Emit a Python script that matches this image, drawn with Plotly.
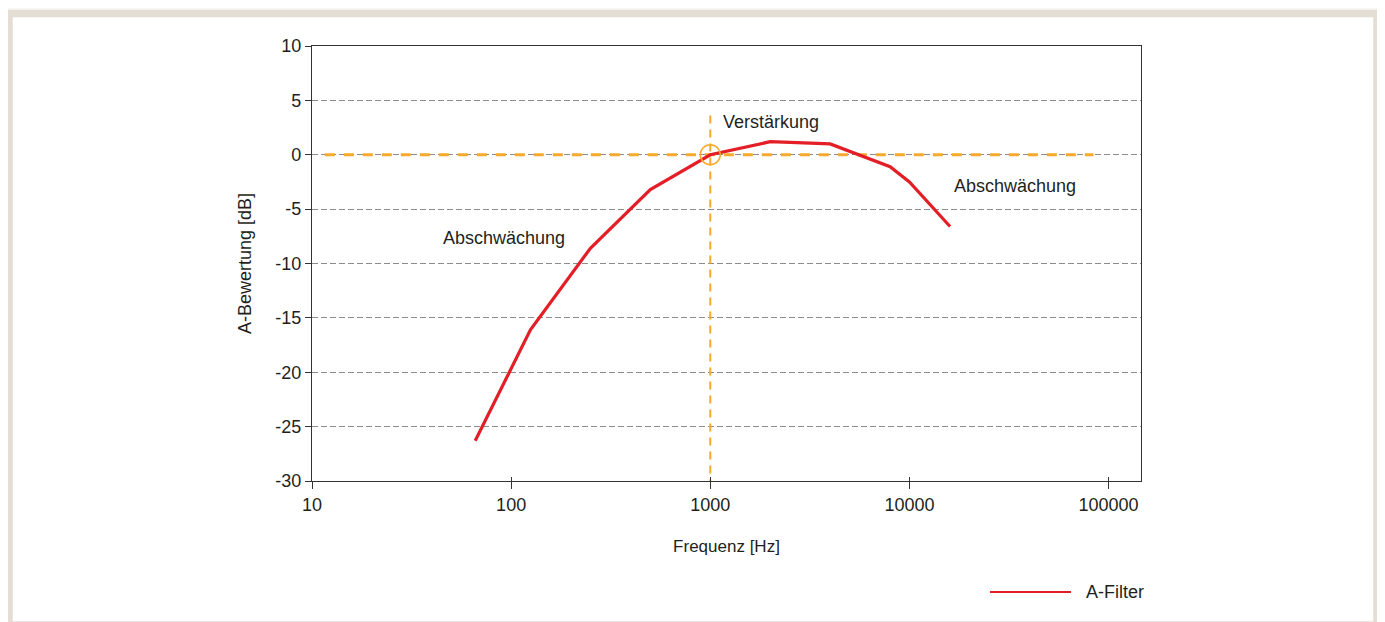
import plotly.graph_objects as go
import math

# Data
freq_hz = [66, 125, 250, 500, 1000, 2000, 4000, 8000, 10000, 16000]
a_weight_db = [-26.3, -16.1, -8.6, -3.2, 0.0, 1.2, 1.0, -1.1, -2.5, -6.6]

ref_h_x = [11.6, 84000]
ref_h_y = [0, 0]
ref_v_x = [1000, 1000]
ref_v_y = [3.6, -30]
marker_x = [1000]
marker_y = [0]

x_tickvals = [10, 100, 1000, 10000, 100000]
x_ticktext = ["10", "100", "1000", "10000", "100000"]
y_tickvals = [10, 5, 0, -5, -10, -15, -20, -25, -30]
y_ticktext = ["10", "5", "0", "-5", "-10", "-15", "-20", "-25", "-30"]

FONT = "Liberation Sans, Arial, sans-serif"
TXT = "#231f20"
RED = "#e41e26"
ORANGE = "#f7a92c"
BEIGE = "#e3ddd4"

fig = go.Figure()

fig.add_trace(go.Scatter(x=ref_h_x, y=ref_h_y, mode="lines",
                         line=dict(color=ORANGE, width=3, dash="10px,9px"),
                         showlegend=False, hoverinfo="skip"))
fig.add_trace(go.Scatter(x=ref_v_x, y=ref_v_y, mode="lines",
                         line=dict(color=ORANGE, width=2, dash="8px,6px"),
                         showlegend=False, hoverinfo="skip"))
fig.add_trace(go.Scatter(x=freq_hz, y=a_weight_db, mode="lines",
                         line=dict(color=RED, width=3.2), name="A-Filter",
                         showlegend=False))
fig.add_trace(go.Scatter(x=marker_x, y=marker_y, mode="markers",
                         marker=dict(symbol="circle-open", size=20,
                                     color=ORANGE, line=dict(width=1.5, color=ORANGE)),
                         showlegend=False, hoverinfo="skip"))
# invisible trace so the overlaid axis (inner tick marks) renders
fig.add_trace(go.Scatter(x=[10], y=[-30], xaxis="x2", mode="markers",
                         marker=dict(opacity=0), showlegend=False, hoverinfo="skip"))

OFF = 8  # page body margin
W, H = 1385 - OFF, 622 - OFF
L, R, T, B = 312 - OFF, 244, 46 - OFF, 141
pw, ph = W - L - R, H - T - B

def px(xp):
    return (xp - OFF - L) / pw

def py(yp):
    return (H - B - (yp - OFF)) / ph

xrange_ = [1, 5.163]

fig.update_layout(
    width=W, height=H,
    margin=dict(l=L, r=R, t=T, b=B, pad=0),
    paper_bgcolor="#f8f7f5",
    plot_bgcolor="rgba(0,0,0,0)",
    font=dict(family=FONT, size=18, color=TXT),
    showlegend=False,
    xaxis=dict(type="log", range=xrange_, tickvals=x_tickvals, ticktext=x_ticktext,
               ticks="outside", ticklen=7, tickwidth=1, tickcolor="#333",
               showline=True, linecolor="#333", linewidth=1.3, mirror=True,
               showgrid=False, zeroline=False,
               title=dict(text="Frequenz [Hz]", standoff=26, font=dict(size=17)),
               tickfont=dict(size=18)),
    xaxis2=dict(type="log", range=xrange_, overlaying="x", tickvals=x_tickvals,
                ticks="inside", ticklen=4, tickwidth=1, tickcolor="#333",
                showticklabels=False, showgrid=False, showline=False, zeroline=False,
                side="bottom", anchor="y"),
    yaxis=dict(range=[-30, 10], tickvals=y_tickvals, ticktext=y_ticktext,
               ticks="outside", ticklen=6, tickwidth=1, tickcolor="#333",
               showline=True, linecolor="#333", linewidth=1.3, mirror=True,
               showgrid=True, gridcolor="#8c8c8c", gridwidth=1, griddash="6px,3px",
               zeroline=False,
               title=dict(text="A-Bewertung [dB]", standoff=18, font=dict(size=18)),
               tickfont=dict(size=18)),
    shapes=[
        dict(type="rect", xref="paper", yref="paper", layer="below",
             x0=px(9), x1=px(1377), y0=py(13.5), y1=py(625),
             line=dict(color=BEIGE, width=7.5), fillcolor="white"),
        dict(type="line", xref="paper", yref="paper",
             x0=px(990), x1=px(1071), y0=py(592), y1=py(592),
             line=dict(color=RED, width=2)),
    ],
    annotations=[
        dict(text="Verstärkung", x=math.log10(1135), y=3.0, xref="x", yref="y",
             xanchor="left", yanchor="middle", showarrow=False),
        dict(text="Abschwächung", x=math.log10(44.4), y=-7.65, xref="x", yref="y",
             xanchor="left", yanchor="middle", showarrow=False),
        dict(text="Abschwächung", x=math.log10(16370), y=-2.87, xref="x", yref="y",
             xanchor="left", yanchor="middle", showarrow=False),
        dict(text="A-Filter", x=px(1084), y=py(592), xref="paper", yref="paper",
             xanchor="left", yanchor="middle", showarrow=False),
    ],
)

fig.write_html("out.html")
